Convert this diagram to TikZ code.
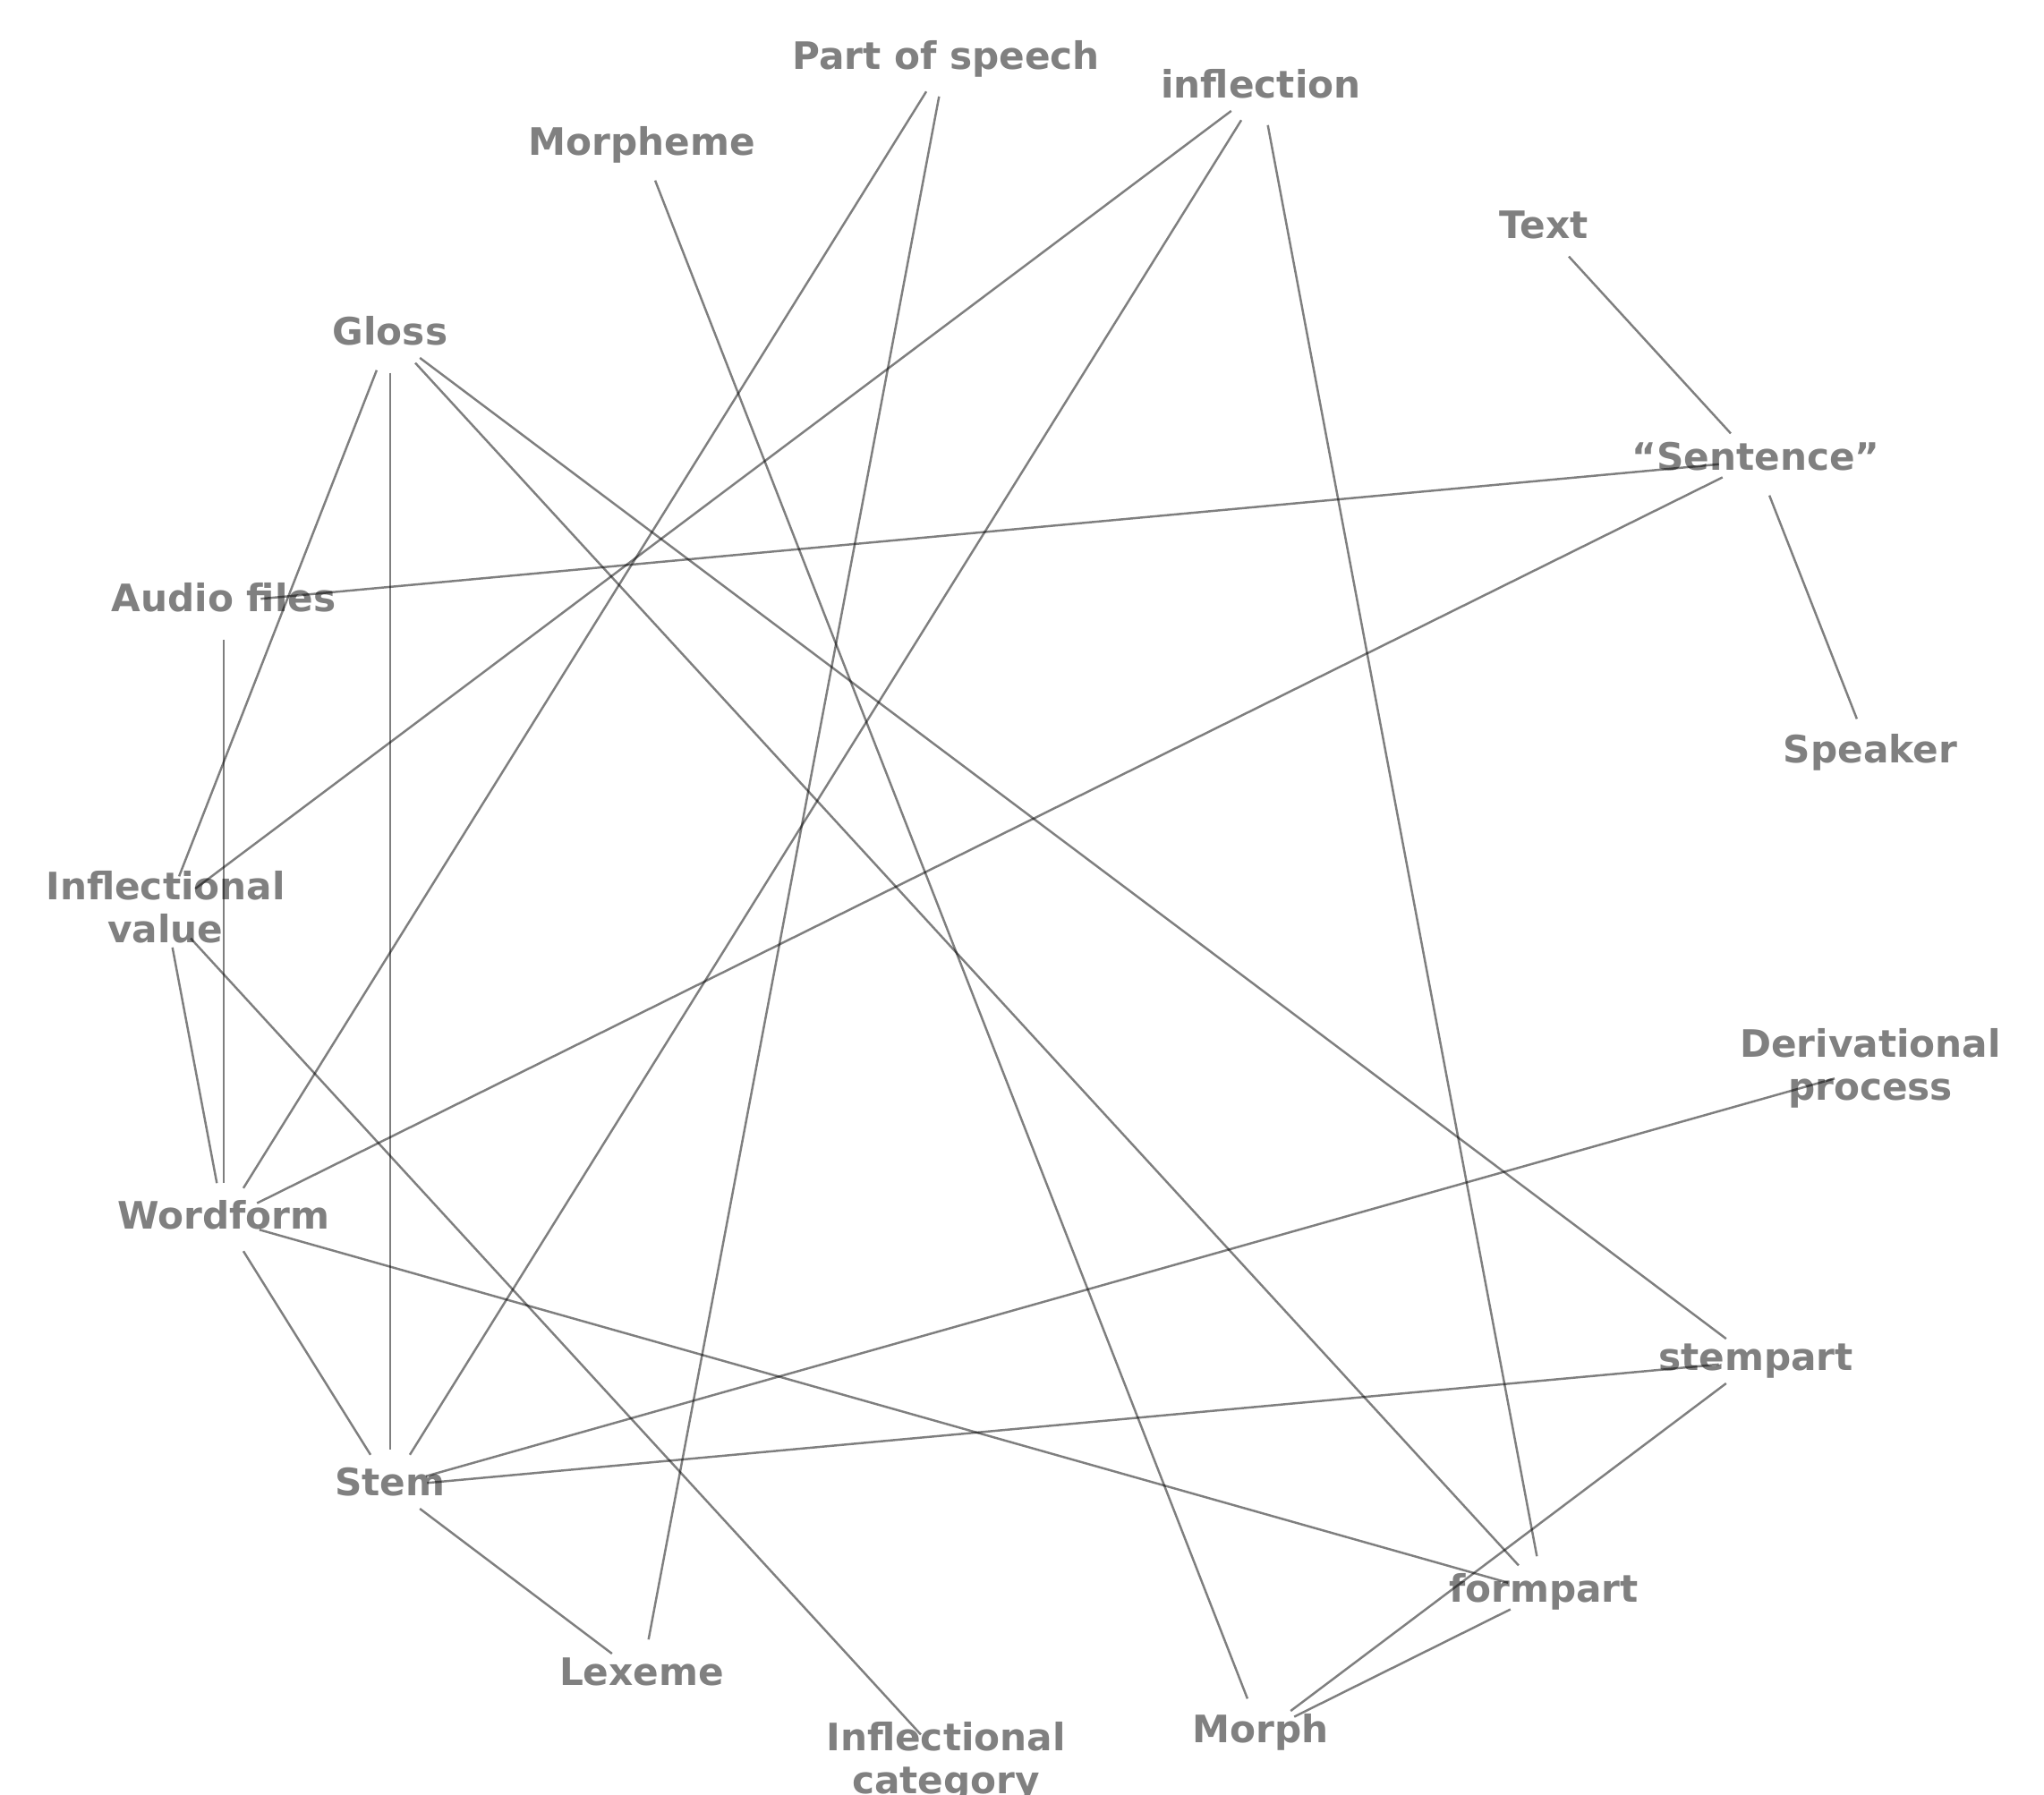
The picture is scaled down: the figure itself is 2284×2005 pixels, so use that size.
\documentclass[tikz,border=0pt]{standalone}
\usepackage{fontspec}
\setmainfont{DejaVu Sans}
\usepackage{tikz}
\usetikzlibrary{positioning}
\usepackage{xcolor}

\begin{document}
\begin{tikzpicture}[
    x=0.01cm, y=-0.01cm,
    term/.style    = {inner sep=0pt, text=gray, font=\bfseries\fontsize{12}{13.7}\selectfont, text height=9.1pt, text depth=2.9pt},
    termtwo/.style = {inner sep=0pt, text=gray, font=\bfseries\fontsize{12}{13.7}\selectfont, align=center, execute at end node=\vphantom{p}},
    link/.style    = {draw=black, draw opacity=0.5, line width=0.7pt, shorten <=0.415cm, shorten >=0.415cm}
]
\useasboundingbox (0,0) rectangle (2284,2005);

% Left side
\node (infval)   [termtwo] at (185, 1018)  {Inflectional\\value};
\node (audio)    [term]    at (250, 673)   {Audio files};
\node (gloss)    [term]    at (436, 375)   {Gloss};
\node (wordform) [term]    at (250, 1363)  {Wordform};
\node (stem)     [term]    at (436, 1661)  {Stem};

% Top
\node (morpheme)   [term] at (717, 163)  {Morpheme};
\node (pos)        [term] at (1057, 67)  {Part of speech};
\node (inflection) [term] at (1409, 99)  {inflection};
\node (text)       [term] at (1725, 256) {Text};

% Right side
\node (sentence) [term]    at (1962, 515)  {“Sentence”};
\node (speaker)  [term]    at (2090, 842)  {Speaker};
\node (deriv)    [termtwo] at (2090, 1194) {Derivational\\process};
\node (stempart) [term]    at (1962, 1521) {stempart};
\node (formpart) [term]    at (1725, 1780) {formpart};

% Bottom
\node (morph)  [term]    at (1409, 1937) {Morph};
\node (infcat) [termtwo] at (1057, 1969) {Inflectional\\category};
\node (lexeme) [term]    at (717, 1873)  {Lexeme};

% Links
\draw [link] (pos.center) -- (wordform.center);
\draw [link] (pos.center) -- (lexeme.center);
\draw [link] (morpheme.center) -- (morph.center);
\draw [link] (inflection.center) -- (infval.center);
\draw [link] (inflection.center) -- (stem.center);
\draw [link] (inflection.center) -- (formpart.center);
\draw [link] (text.center) -- (sentence.center);
\draw [link] (gloss.center) -- (infval.center);
\draw [link] (gloss.center) -- (stem.center);
\draw [link] (gloss.center) -- (formpart.center);
\draw [link] (gloss.center) -- (stempart.center);
\draw [link] (sentence.center) -- (audio.center);
\draw [link] (sentence.center) -- (wordform.center);
\draw [link] (sentence.center) -- (speaker.center);
\draw [link] (audio.center) -- (wordform.center);
\draw [link] (infval.center) -- (wordform.center);
\draw [link] (infval.center) -- (infcat.center);
\draw [link] (wordform.center) -- (stem.center);
\draw [link] (wordform.center) -- (formpart.center);
\draw [link] (stem.center) -- (deriv.center);
\draw [link] (stem.center) -- (stempart.center);
\draw [link] (stem.center) -- (lexeme.center);
\draw [link] (stempart.center) -- (morph.center);
\draw [link] (formpart.center) -- (morph.center);

\end{tikzpicture}
\end{document}
